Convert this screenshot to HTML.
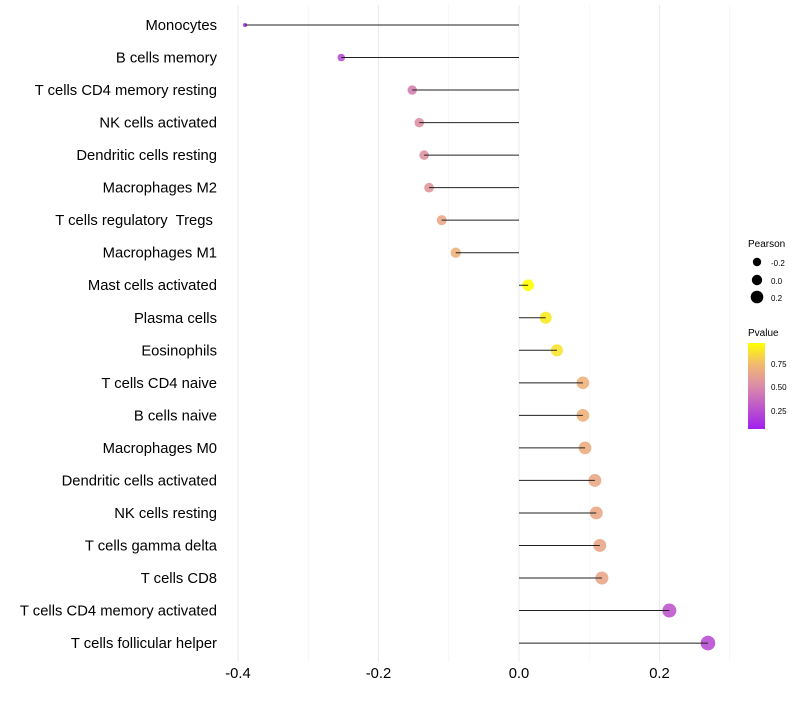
<!DOCTYPE html>
<html><head><meta charset="utf-8"><style>
body{margin:0;background:#fff;}
svg text{font-family:"Liberation Sans",sans-serif;white-space:pre;}
</style></head><body>
<svg id="chart" width="800" height="700" xmlns="http://www.w3.org/2000/svg">
<defs><linearGradient id="pg" x1="0" y1="1" x2="0" y2="0">
<stop offset="0" stop-color="#A020F0"/><stop offset="0.5" stop-color="#DB8CA8"/><stop offset="0.75" stop-color="#F2B872"/><stop offset="1" stop-color="#FFFF00"/></linearGradient></defs>
<g id="grid"></g><g id="marks"></g><g id="labels"></g>
<g>
<text x="748" y="247" font-size="10" fill="#000">Pearson</text>
<circle cx="757" cy="262" r="4.2" fill="#000"/><text x="771" y="266" font-size="8">-0.2</text>
<circle cx="757" cy="280" r="5.2" fill="#000"/><text x="771" y="284" font-size="8">0.0</text>
<circle cx="757" cy="297" r="6.3" fill="#000"/><text x="771" y="301" font-size="8">0.2</text>
<text x="748" y="336" font-size="10">Pvalue</text>
<rect x="748" y="343" width="17" height="86" fill="url(#pg)"/>
<text x="771" y="367" font-size="8">0.75</text><text x="771" y="390" font-size="8">0.50</text><text x="771" y="414" font-size="8">0.25</text>
</g>
</svg>
<script>
const categories=["Monocytes","B cells memory","T cells CD4 memory resting","NK cells activated","Dendritic cells resting","Macrophages M2","T cells regulatory  Tregs ","Macrophages M1","Mast cells activated","Plasma cells","Eosinophils","T cells CD4 naive","B cells naive","Macrophages M0","Dendritic cells activated","NK cells resting","T cells gamma delta","T cells CD8","T cells CD4 memory activated","T cells follicular helper"];
const pearson=[-0.39,-0.253,-0.152,-0.142,-0.135,-0.128,-0.110,-0.090,0.013,0.038,0.054,0.091,0.091,0.094,0.108,0.110,0.115,0.118,0.214,0.269];
const pvalue=[0.1,0.25,0.45,0.52,0.54,0.56,0.65,0.7,0.97,0.9,0.88,0.7,0.7,0.68,0.65,0.65,0.64,0.64,0.28,0.25];
const xTicks=[-0.4,-0.2,0.0,0.2];
const xTickLabels=["-0.4","-0.2","0.0","0.2"];
const minorTicks=[-0.3,-0.1,0.1,0.3];
const NS="http://www.w3.org/2000/svg";
const x=v=>519+v*702.5;
const y=i=>25+i*32.53;
const r=v=>Math.sqrt(4+(v+0.39)*75);
function lerp(a,b,t){return a.map((c,k)=>Math.round(c+(b[k]-c)*t));}
function col(p){const st=[[0.06,[160,32,240]],[0.5,[219,140,168]],[0.74,[242,184,114]],[0.97,[255,255,0]]];
 if(p<=st[0][0])return "rgb("+st[0][1]+")";
 for(let k=1;k<st.length;k++){if(p<=st[k][0]){const t=(p-st[k-1][0])/(st[k][0]-st[k-1][0]);return "rgb("+lerp(st[k-1][1],st[k][1],t)+")";}}
 return "rgb(255,255,0)";}
function mk(tag,at,parent){const e=document.createElementNS(NS,tag);for(const k in at)e.setAttribute(k,at[k]);document.getElementById(parent).appendChild(e);return e;}
minorTicks.forEach(v=>{const l=mk("line",{x1:x(v),x2:x(v),y1:5,y2:662,stroke:"#f3f3f3","stroke-width":0.6},"grid");

});
xTicks.forEach((v,i)=>{const l=mk("line",{x1:x(v),x2:x(v),y1:5,y2:662,stroke:"#ebebeb","stroke-width":1.1},"grid");


const t=mk("text",{x:x(v),y:678,"font-size":14.8,"text-anchor":"middle",fill:"#000"},"labels");t.textContent=xTickLabels[i];

});
categories.forEach((c,i)=>{
 const yy=y(i);
 const t=mk("text",{x:217,y:yy+5,"font-size":14.8,"text-anchor":"end",fill:"#000"},"labels");t.textContent=c;
 
 
 const p=mk("circle",{cx:x(pearson[i]),cy:yy,r:r(pearson[i]),fill:col(pvalue[i]),"fill-opacity":0.9},"marks");
 
 
 const l=mk("line",{x1:x(0),x2:x(pearson[i]),y1:yy,y2:yy,stroke:"#222","stroke-width":1},"marks");
 
 
});
</script>
</body></html>
